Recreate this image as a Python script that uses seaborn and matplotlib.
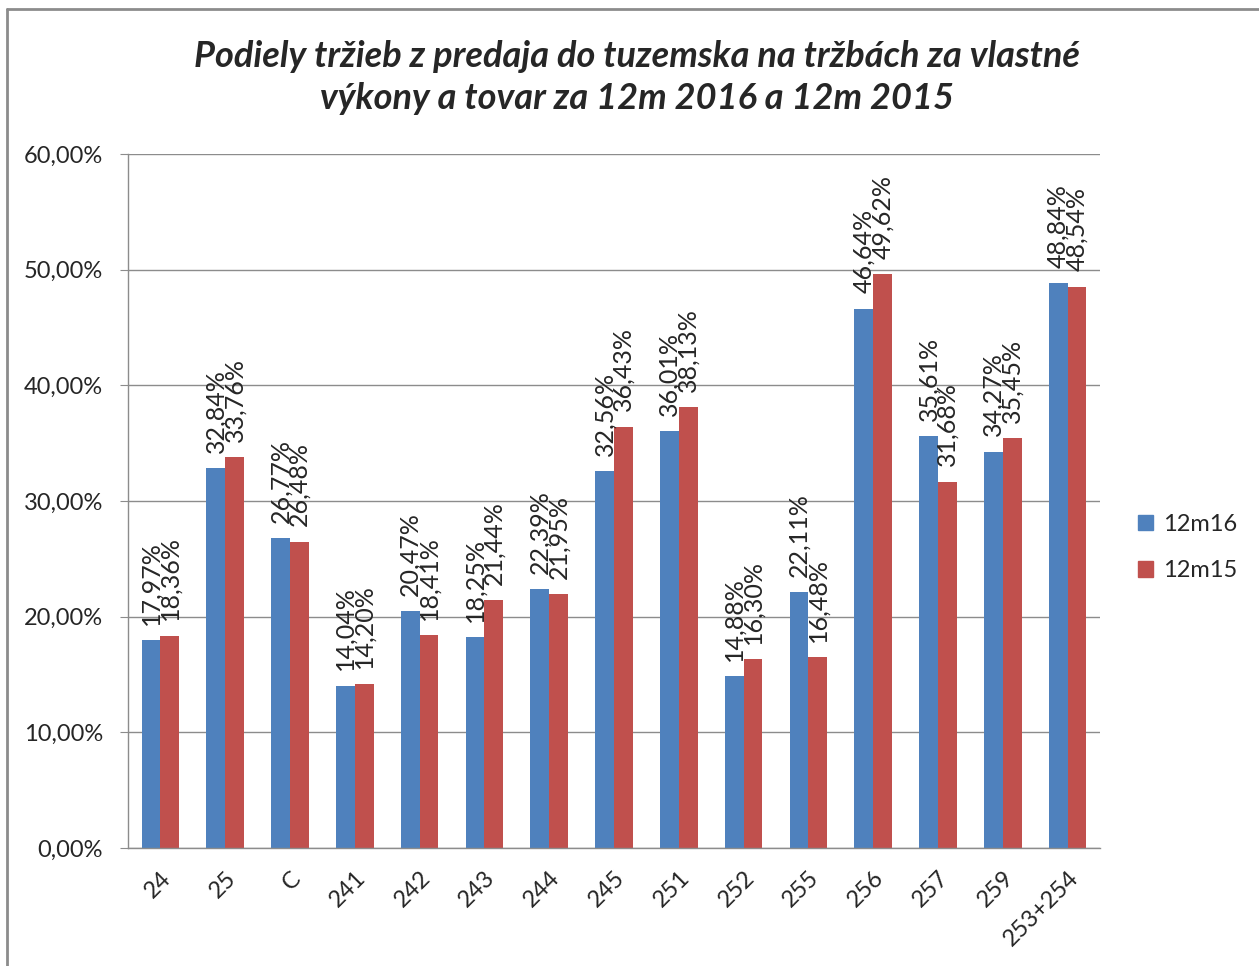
import pandas as pd
import matplotlib.pyplot as plt
import matplotlib.patches as mpatches
import matplotlib.lines as mlines
import seaborn as sns

# chart data
categories = ['24', '25', 'C', '241', '242', '243', '244', '245', '251', '252',
              '255', '256', '257', '259', '253+254']
share_12m16 = [17.97, 32.84, 26.77, 14.04, 20.47, 18.25, 22.39, 32.56, 36.01, 14.88,
               22.11, 46.64, 35.61, 34.27, 48.84]
share_12m15 = [18.36, 33.76, 26.48, 14.20, 18.41, 21.44, 21.95, 36.43, 38.13, 16.30,
               16.48, 49.62, 31.68, 35.45, 48.54]
series = ['12m16', '12m15']
y_ticks = [0, 10, 20, 30, 40, 50, 60]

colors = ['#4F81BD', '#C0504D']

data = pd.DataFrame({
    'cat': categories * 2,
    'val': share_12m16 + share_12m15,
    'series': [series[0]] * len(categories) + [series[1]] * len(categories),
})

sns.set_style('white')
plt.rcParams['font.family'] = ['Lato', 'DejaVu Sans']

fig = plt.figure(figsize=(12.59, 9.66), dpi=100)
ax = fig.add_axes([0.1017, 0.1222, 0.772, 0.7184])

sns.barplot(data=data, x='cat', y='val', hue='series', palette=colors,
            width=0.58, saturation=1, linewidth=0, ax=ax, legend=False)

def fmt(v):
    return f'{v:.2f}'.replace('.', ',') + '%'

for cont in ax.containers:
    vals = [b.get_height() for b in cont]
    ax.bar_label(cont, labels=[fmt(v) for v in vals], rotation=90,
                 padding=11, fontsize=18)

ax.set_ylim(0, 60)
ax.set_xlim(-0.5, len(categories) - 0.5)
ax.set_yticks(y_ticks)
ax.set_yticklabels([f'{t},00%' for t in y_ticks], fontsize=17)
ax.yaxis.grid(True, color='#8c8c8c', linewidth=1)
ax.set_axisbelow(True)

ax.set_xticks(range(len(categories)))
ax.set_xticklabels(categories, rotation=45, ha='right', rotation_mode='anchor',
                   fontsize=17)
ax.tick_params(axis='x', which='major', length=0, pad=14)
ax.set_xticks([i - 0.5 for i in range(len(categories) + 1)], minor=True)
ax.tick_params(axis='x', which='minor', length=6, color='#8c8c8c', direction='out')
ax.tick_params(axis='y', length=6, color='#8c8c8c', direction='out', left=True,
               pad=12)
ax.set_xlabel('')
ax.set_ylabel('')

for s in ['top', 'right']:
    ax.spines[s].set_visible(False)
for s in ['left', 'bottom']:
    ax.spines[s].set_color('#8c8c8c')
    ax.spines[s].set_linewidth(1)

handles = [mpatches.Patch(color=c, label=s) for c, s in zip(colors, series)]
fig.legend(handles=handles, loc='center left', bbox_to_anchor=(0.887, 0.4332),
           frameon=False, fontsize=17, handlelength=0.65, handleheight=0.65,
           labelspacing=1.07, handletextpad=0.4)

fig.text(0.506, 0.920,
         'Podiely tržieb z predaja do tuzemska na tržbách za vlastné\nvýkony a tovar za 12m 2016 a 12m 2015',
         ha='center', va='center', fontsize=26, fontweight='bold', style='italic',
         linespacing=1.33)

# chart frame (left and top edges visible in the crop)
fig.add_artist(mlines.Line2D([7 / 1259, 7 / 1259], [0, 1 - 9 / 966],
                             transform=fig.transFigure, color='#8c8c8c', linewidth=2))
fig.add_artist(mlines.Line2D([7 / 1259, 1], [1 - 9 / 966, 1 - 9 / 966],
                             transform=fig.transFigure, color='#8c8c8c', linewidth=2))

plt.savefig('out.png', dpi=100)
plt.close()
